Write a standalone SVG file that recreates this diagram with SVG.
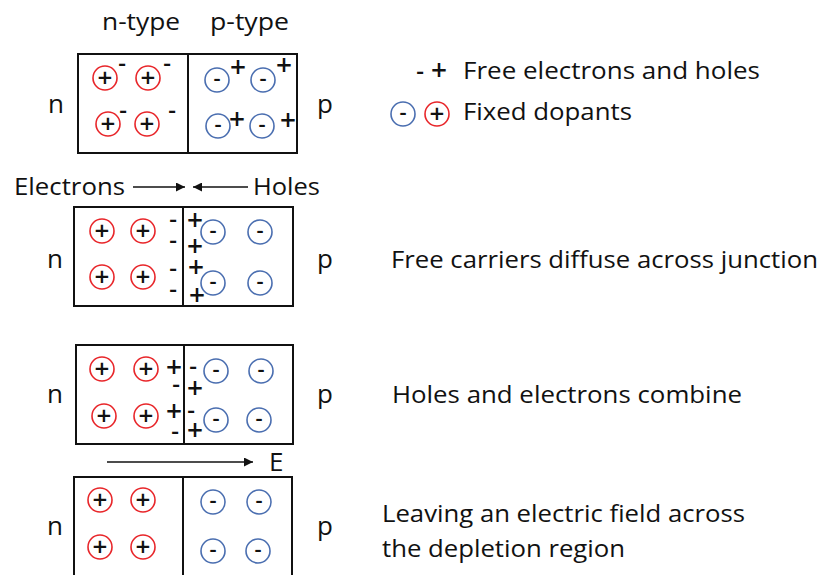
<svg xmlns="http://www.w3.org/2000/svg" xmlns:xlink="http://www.w3.org/1999/xlink" width="824" height="575" viewBox="0 0 824 575">
  <style>
    text { font-family: "Open Sans", "Noto Sans", "Liberation Sans", sans-serif; fill: #111; }
    .lbl { font-size: 24px; }
    .side { font-size: 26px; }
    .sp { font-size: 26px; font-weight: 600; text-anchor: middle; }
    .sm { font-size: 22px; font-weight: 600; text-anchor: middle; }
    .fp { font-size: 28px; font-weight: 600; text-anchor: middle; }
    .fm { font-size: 24px; font-weight: 600; text-anchor: middle; }
    .box { fill: #fff; stroke: #111; stroke-width: 2; }
    .div { stroke: #111; stroke-width: 2; }
    .don { fill: none; stroke: #e8262a; stroke-width: 1.6; }
    .acc { fill: none; stroke: #4a6eb0; stroke-width: 1.6; }
    .wire { stroke: #111; stroke-width: 1.5; fill: none; }
  </style>
  <defs>
    <g id="donor">
      <circle class="don" cx="0" cy="0" r="12"/>
      <text class="sp" x="0" y="9">+</text>
    </g>
    <g id="acceptor">
      <circle class="acc" cx="0" cy="0" r="12"/>
      <text class="sm" x="0" y="6">-</text>
    </g>
    <marker id="head" viewBox="0 0 10 10" refX="10" refY="5" markerWidth="9" markerHeight="9" markerUnits="userSpaceOnUse" orient="auto">
      <path d="M0,0 L10,5 L0,10 z" fill="#111"/>
    </marker>
  </defs>

  <rect width="824" height="575" fill="#fff"/>

  <!-- column headings -->
  <text class="lbl" x="102" y="30" textLength="78" lengthAdjust="spacingAndGlyphs">n-type</text>
  <text class="lbl" x="210" y="30" textLength="79" lengthAdjust="spacingAndGlyphs">p-type</text>

  <!-- legend -->
  <g id="legend">
    <text class="fm" x="420" y="78.5">-</text>
    <text class="fp" x="439" y="80">+</text>
    <text class="lbl" x="463" y="79" textLength="297" lengthAdjust="spacingAndGlyphs">Free electrons and holes</text>
    <use href="#acceptor" x="403" y="114"/>
    <use href="#donor" x="437" y="114"/>
    <text class="lbl" x="463" y="120" textLength="169" lengthAdjust="spacingAndGlyphs">Fixed dopants</text>
  </g>

  <!-- stage 1: separate n and p material -->
  <g id="stage1">
    <rect class="box" x="78" y="54" width="219" height="99"/>
    <line class="div" x1="188" y1="54" x2="188" y2="153"/>
    <text class="side" x="48" y="113">n</text>
    <text class="side" x="317" y="113">p</text>
    <use href="#donor" x="105" y="78"/>
    <use href="#donor" x="148" y="78"/>
    <use href="#donor" x="108" y="124"/>
    <use href="#donor" x="147" y="124"/>
    <use href="#acceptor" x="217" y="80"/>
    <use href="#acceptor" x="263" y="80"/>
    <use href="#acceptor" x="218" y="126"/>
    <use href="#acceptor" x="262" y="126"/>
    <text class="fm" x="122" y="70.5">-</text>
    <text class="fm" x="167" y="70.5">-</text>
    <text class="fm" x="123" y="117.5">-</text>
    <text class="fm" x="172" y="117.5">-</text>
    <text class="fp" x="238" y="77">+</text>
    <text class="fp" x="284" y="75">+</text>
    <text class="fp" x="237" y="129">+</text>
    <text class="fp" x="288" y="130">+</text>
  </g>

  <!-- stage 2: diffusion -->
  <g id="stage2">
    <text class="lbl" x="14" y="195" textLength="111" lengthAdjust="spacingAndGlyphs">Electrons</text>
    <text class="lbl" x="253" y="195" textLength="67" lengthAdjust="spacingAndGlyphs">Holes</text>
    <rect class="box" x="74" y="207" width="219" height="99"/>
    <line class="div" x1="183" y1="207" x2="183" y2="306"/>
    <text class="side" x="47" y="268">n</text>
    <text class="side" x="317" y="268">p</text>
    <use href="#donor" x="102" y="231"/>
    <use href="#donor" x="143" y="231"/>
    <use href="#donor" x="102" y="277"/>
    <use href="#donor" x="143" y="277"/>
    <use href="#acceptor" x="213" y="232"/>
    <use href="#acceptor" x="260" y="232"/>
    <use href="#acceptor" x="213" y="283"/>
    <use href="#acceptor" x="260" y="283"/>
    <text class="fm" x="173" y="226.5">-</text>
    <text class="fm" x="173" y="247.5">-</text>
    <text class="fm" x="173" y="275.5">-</text>
    <text class="fm" x="173" y="296.5">-</text>
    <text class="fp" x="195" y="230">+</text>
    <text class="fp" x="195" y="256">+</text>
    <text class="fp" x="196" y="277">+</text>
    <text class="fp" x="197" y="305">+</text>
  </g>

  <!-- stage 3: recombination -->
  <g id="stage3">
    <rect class="box" x="76" y="345" width="217" height="99"/>
    <line class="div" x1="184" y1="345" x2="184" y2="444"/>
    <text class="side" x="47" y="403">n</text>
    <text class="side" x="317" y="403">p</text>
    <use href="#donor" x="102" y="369"/>
    <use href="#donor" x="146" y="369"/>
    <use href="#donor" x="104" y="416"/>
    <use href="#donor" x="146" y="416"/>
    <use href="#acceptor" x="216" y="371"/>
    <use href="#acceptor" x="261" y="371"/>
    <use href="#acceptor" x="216" y="420"/>
    <use href="#acceptor" x="259" y="420"/>
    <text class="fp" x="174" y="377">+</text>
    <text class="fp" x="174" y="421">+</text>
    <text class="fm" x="176" y="391.5">-</text>
    <text class="fm" x="175" y="438.5">-</text>
    <text class="fm" x="193" y="373.5">-</text>
    <text class="fm" x="191" y="417.5">-</text>
    <text class="fp" x="195" y="398">+</text>
    <text class="fp" x="195" y="440">+</text>
  </g>

  <!-- stage 4: depletion region -->
  <g id="stage4">
    <text class="side" x="269" y="471">E</text>
    <rect class="box" x="74" y="477" width="218" height="110"/>
    <line class="div" x1="183" y1="477" x2="183" y2="587"/>
    <text class="side" x="47" y="535">n</text>
    <text class="side" x="317" y="535">p</text>
    <use href="#donor" x="100" y="500"/>
    <use href="#donor" x="143" y="500"/>
    <use href="#donor" x="100" y="547"/>
    <use href="#donor" x="143" y="547"/>
    <use href="#acceptor" x="213" y="502"/>
    <use href="#acceptor" x="259" y="502"/>
    <use href="#acceptor" x="213" y="551"/>
    <use href="#acceptor" x="258" y="551"/>
  </g>

  <!-- captions -->
  <text class="lbl" x="391" y="268" textLength="427" lengthAdjust="spacingAndGlyphs">Free carriers diffuse across junction</text>
  <text class="lbl" x="392" y="403" textLength="350" lengthAdjust="spacingAndGlyphs">Holes and electrons combine</text>
  <text class="lbl" x="382" y="522" textLength="363" lengthAdjust="spacingAndGlyphs">Leaving an electric field across</text>
  <text class="lbl" x="382" y="557" textLength="243" lengthAdjust="spacingAndGlyphs">the depletion region</text>

  <!-- arrows -->
  <g id="connectors">
    <line class="wire" x1="133" y1="187" x2="185" y2="187" marker-end="url(#head)"/>
    <line class="wire" x1="248" y1="187" x2="193" y2="187" marker-end="url(#head)"/>
    <line class="wire" x1="107" y1="462" x2="253" y2="462" marker-end="url(#head)"/>
  </g>
</svg>
